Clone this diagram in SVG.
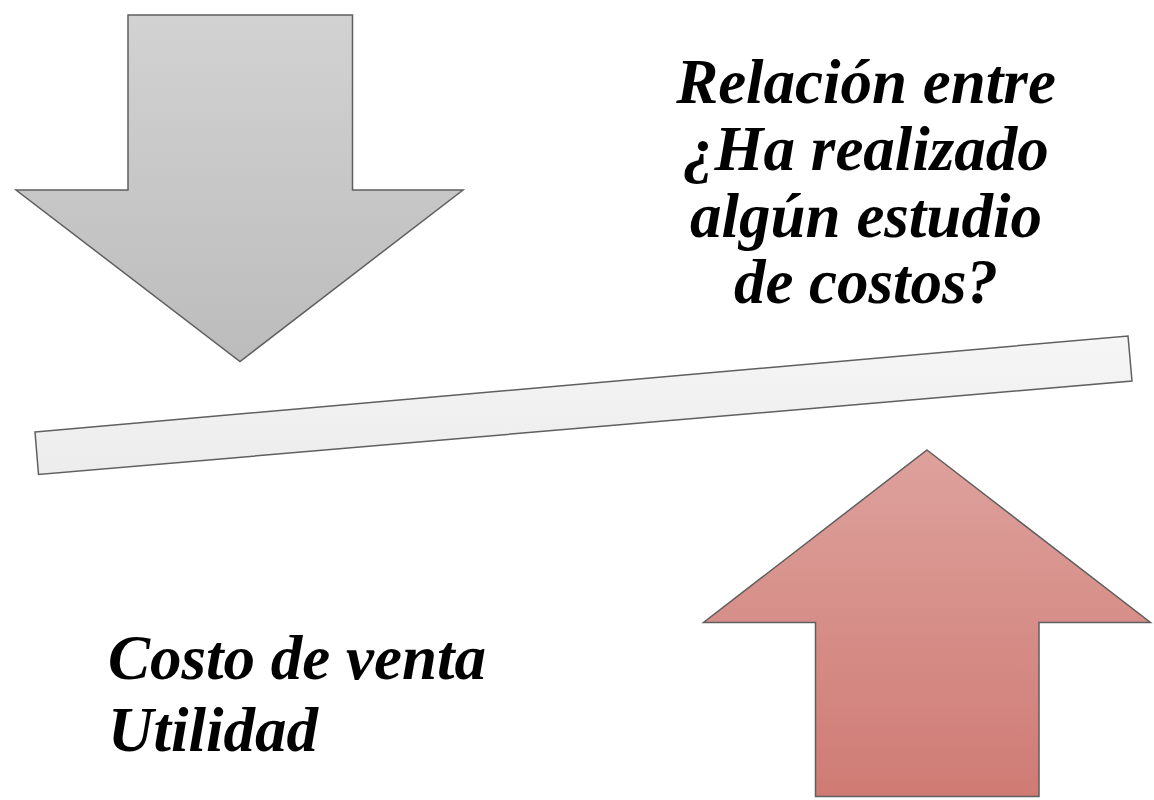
<svg xmlns="http://www.w3.org/2000/svg" width="1154" height="800" viewBox="0 0 1154 800">
<defs>
<linearGradient id="gGray" x1="0" y1="0" x2="0" y2="1">
<stop offset="0" stop-color="#d2d2d2"/>
<stop offset="1" stop-color="#bcbcbc"/>
</linearGradient>
<linearGradient id="gRed" x1="0" y1="0" x2="0" y2="1">
<stop offset="0" stop-color="#dea19c"/>
<stop offset="1" stop-color="#cf7b74"/>
</linearGradient>
<linearGradient id="gBar" x1="0" y1="0" x2="0" y2="1">
<stop offset="0" stop-color="#f6f6f6"/>
<stop offset="1" stop-color="#ececec"/>
</linearGradient>
<style>
.shape{stroke:#5f5f5f;stroke-width:1.5;stroke-linejoin:miter}
.lbl{font-family:"Liberation Serif","Times New Roman",serif;font-weight:bold;font-style:italic;font-size:63px;fill:#000}
</style>
</defs>
<rect width="1154" height="800" fill="#ffffff"/>
<g id="arrow-down">
<polygon class="shape" fill="url(#gGray)" points="128,15 352.5,15 352.5,190 463,190 240,361.5 16,190 128,190"/>
</g>
<g id="beam">
<polygon class="shape" fill="url(#gBar)" points="35,432 1128,336 1132,381 38.5,474.5"/>
</g>
<g id="arrow-up">
<polygon class="shape" fill="url(#gRed)" points="927,450 1150.5,622.5 1039,622.5 1039,796.5 815.5,796.5 815.5,622.5 703.5,622.5"/>
</g>
<g id="label-top">
<text class="lbl" text-anchor="middle" x="866" y="103">Relación entre</text>
<text class="lbl" text-anchor="middle" x="866" y="170">¿Ha realizado</text>
<text class="lbl" text-anchor="middle" x="866" y="237">algún estudio</text>
<text class="lbl" text-anchor="middle" x="866" y="303">de costos?</text>
</g>
<g id="label-bottom">
<text class="lbl" x="108" y="679">Costo de venta</text>
<text class="lbl" x="108" y="751">Utilidad</text>
</g>
</svg>
